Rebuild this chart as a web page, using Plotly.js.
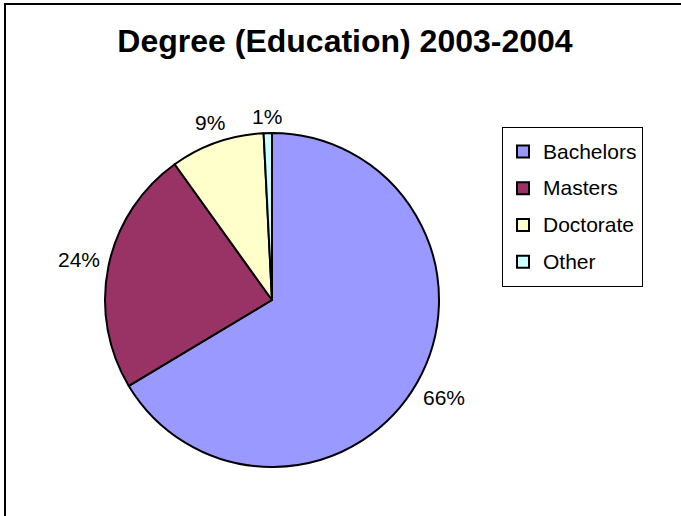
<!DOCTYPE html>
<html>
<head>
<meta charset="utf-8">
<script src="https://cdn.plot.ly/plotly-3.0.1.min.js"></script>
<style>html,body{margin:0;padding:0;background:#fff;}#chart{width:681px;height:516px;}</style>
</head>
<body>
<div id="chart"></div>
<script>
const categories = ["Bachelors", "Masters", "Doctorate", "Other"];
const values = [66.4, 23.7, 9.1, 0.8];
const colors = ["#9999FF", "#993366", "#FFFFCC", "#CCFFFF"];
const chartTitle = "Degree (Education) 2003-2004";

const W = 681, H = 516;
const cx = 272, cy = 300, R = 167;
const labelSize = 21;
const FONT = "Liberation Sans, Arial, sans-serif";

const legendLabels = categories.map(c => '<span style="font-size:21px;baseline-shift:3px">' + c + '</span>');

const trace = {
  type: "pie",
  labels: legendLabels,
  values: values,
  sort: false,
  direction: "clockwise",
  rotation: 0,
  marker: { colors: colors, line: { color: "#000000", width: 2 } },
  textposition: "none",
  hoverinfo: "none",
  domain: { x: [(cx - R) / W, (cx + R) / W], y: [(H - cy - R) / H, (H - cy + R) / H] }
};

// percentage labels placed outside each slice at its mid-angle (computed from the data)
const total = values.reduce((a, b) => a + b, 0);
let cum = 0;
const annotations = values.map(v => {
  const mid = (cum + v / 2) / total * 2 * Math.PI;
  cum += v;
  const dx = Math.sin(mid), dy = -Math.cos(mid);
  const txt = Math.round(v / total * 100) + "%";
  const digits = txt.length - 1;
  const w = labelSize * (0.556 * digits + 0.889);
  const dist = R + 8 + (w / 2) * Math.abs(dx) + 8.5 * Math.abs(dy);
  const px = cx + dist * dx, py = cy + dist * dy;
  return {
    xref: "paper", yref: "paper", x: px / W, y: 1 - py / H,
    xanchor: "center", yanchor: "middle", showarrow: false,
    text: txt, font: { family: FONT, size: labelSize, color: "#000" }
  };
});

const layout = {
  width: W, height: H,
  margin: { l: 0, r: 0, t: 0, b: 0 },
  paper_bgcolor: "#fff",
  font: { family: FONT, color: "#000" },
  title: {
    text: "<b>" + chartTitle + "</b>",
    font: { family: FONT, size: 32, color: "#000" },
    x: 345 / W, xanchor: "center",
    y: 1 - 41 / H, yanchor: "middle"
  },
  showlegend: true,
  legend: {
    x: 502 / W, xanchor: "left",
    y: 1 - 127 / H, yanchor: "top",
    bordercolor: "#000", borderwidth: 1,
    bgcolor: "#fff",
    font: { family: FONT, size: 26, color: "#000" },
    traceorder: "normal"
  },
  annotations: annotations,
  shapes: [{
    type: "rect", xref: "paper", yref: "paper",
    x0: 5 / W, x1: 1.05, y0: -0.05, y1: 1 - 4 / H,
    line: { color: "#000", width: 2 }, fillcolor: "rgba(0,0,0,0)"
  }]
};

Plotly.newPlot("chart", [trace], layout, { staticPlot: true });
</script>
</body>
</html>
